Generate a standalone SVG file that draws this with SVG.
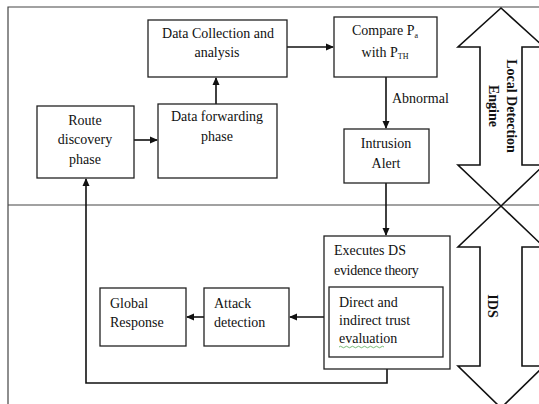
<svg xmlns="http://www.w3.org/2000/svg" width="539" height="404" viewBox="0 0 539 404" font-family="'Liberation Serif', 'Times New Roman', serif">
<style>
.box{fill:#fff;stroke:#222;stroke-width:1.3}
.ln{fill:none;stroke:#111;stroke-width:1.6}
.frame{fill:none;stroke:#444;stroke-width:1.2}
text{font-family:'Liberation Serif', 'Times New Roman', serif;font-size:14px;fill:#111}
.c{text-anchor:middle}
.b{font-weight:bold}
.big{fill:#fff;stroke:#111;stroke-width:1.6}
</style>
<defs>
<marker id="ah" markerWidth="8" markerHeight="8" refX="7" refY="4" orient="auto" markerUnits="userSpaceOnUse">
<path d="M0,0.5 L8,4 L0,7.5 Z" fill="#111"/>
</marker>
</defs>
<rect width="539" height="404" fill="#fff"/>
<g id="frame">
<path class="frame" d="M8,404 V7 H539"/>
<path class="frame" d="M8,205 H539"/>
</g>
<g id="arrow-lde">
<path class="big" d="M501,8 L544,47 L522,47 L522,165 L544,165 L501,206 L458,165 L480,165 L480,47 L458,47 Z"/>
<text class="b" transform="translate(507,106) rotate(90)" text-anchor="middle">Local Detection</text>
<text class="b" transform="translate(489,106) rotate(90)" text-anchor="middle">Engine</text>
</g>
<g id="arrow-ids">
<path class="big" d="M501,206 L544,247 L522,247 L522,366 L544,366 L501,408 L458,366 L480,366 L480,247 L458,247 Z"/>
<text class="b" transform="translate(488,306) rotate(90)" text-anchor="middle">IDS</text>
</g>
<g id="connectors">
<path class="ln" d="M134,140 H157" marker-end="url(#ah)"/>
<path class="ln" d="M216,104 V78" marker-end="url(#ah)"/>
<path class="ln" d="M287,47 H333" marker-end="url(#ah)"/>
<path class="ln" d="M386,77 V128" marker-end="url(#ah)"/>
<path class="ln" d="M386,183 V235" marker-end="url(#ah)"/>
<path class="ln" d="M329,317 H290" marker-end="url(#ah)"/>
<path class="ln" d="M204,317 H187" marker-end="url(#ah)"/>
<path class="ln" d="M387,357 V383 H86 V179" marker-end="url(#ah)"/>
<text x="392" y="103" font-size="13.5">Abnormal</text>
</g>
<g id="data-collection">
<rect class="box" x="148" y="20" width="139" height="57"/>
<text class="c" x="218" y="38">Data Collection and</text>
<text class="c" x="217" y="57">analysis</text>
</g>
<g id="route-discovery">
<rect class="box" x="37" y="106" width="97" height="72"/>
<text class="c" x="85" y="125">Route</text>
<text class="c" x="85" y="144">discovery</text>
<text class="c" x="85" y="164">phase</text>
</g>
<g id="data-forwarding">
<rect class="box" x="158" y="104" width="119" height="74"/>
<text class="c" x="217" y="121">Data forwarding</text>
<text class="c" x="217" y="141">phase</text>
</g>
<g id="compare">
<rect class="box" x="334" y="17" width="103" height="60"/>
<text class="c" x="385" y="35" font-size="13.5">Compare P<tspan font-size="8" dy="3">a</tspan></text>
<text class="c" x="385" y="57" font-size="13.5">with P<tspan font-size="8" dy="2">TH</tspan></text>
</g>
<g id="intrusion-alert">
<rect class="box" x="344" y="129" width="85" height="54"/>
<text class="c" x="386" y="148">Intrusion</text>
<text class="c" x="386" y="168">Alert</text>
</g>
<g id="executes-ds">
<rect class="box" x="324" y="236" width="126" height="133"/>
<text x="334" y="255">Executes DS</text>
<text x="334" y="275" letter-spacing="-0.3">evidence theory</text>
</g>
<g id="trust-eval">
<rect class="box" x="329" y="287" width="114" height="70"/>
<text x="339" y="307">Direct and</text>
<text x="339" y="325">indirect trust</text>
<text x="339" y="343">evaluation</text>
<path d="M339,347 q1.5,-1.5 3,0 t3,0 t3,0 t3,0 t3,0 t3,0 t3,0 t3,0 t3,0 t3,0 t3,0 t3,0 t3,0 t3,0 t3,0" fill="none" stroke="#5a5" stroke-width="0.8"/>
</g>
<g id="attack-detection">
<rect class="box" x="204" y="288" width="85" height="58"/>
<text x="214" y="308">Attack</text>
<text x="214" y="327">detection</text>
</g>
<g id="global-response">
<rect class="box" x="100" y="288" width="86" height="58"/>
<text x="110" y="308">Global</text>
<text x="110" y="327">Response</text>
</g>
</svg>
